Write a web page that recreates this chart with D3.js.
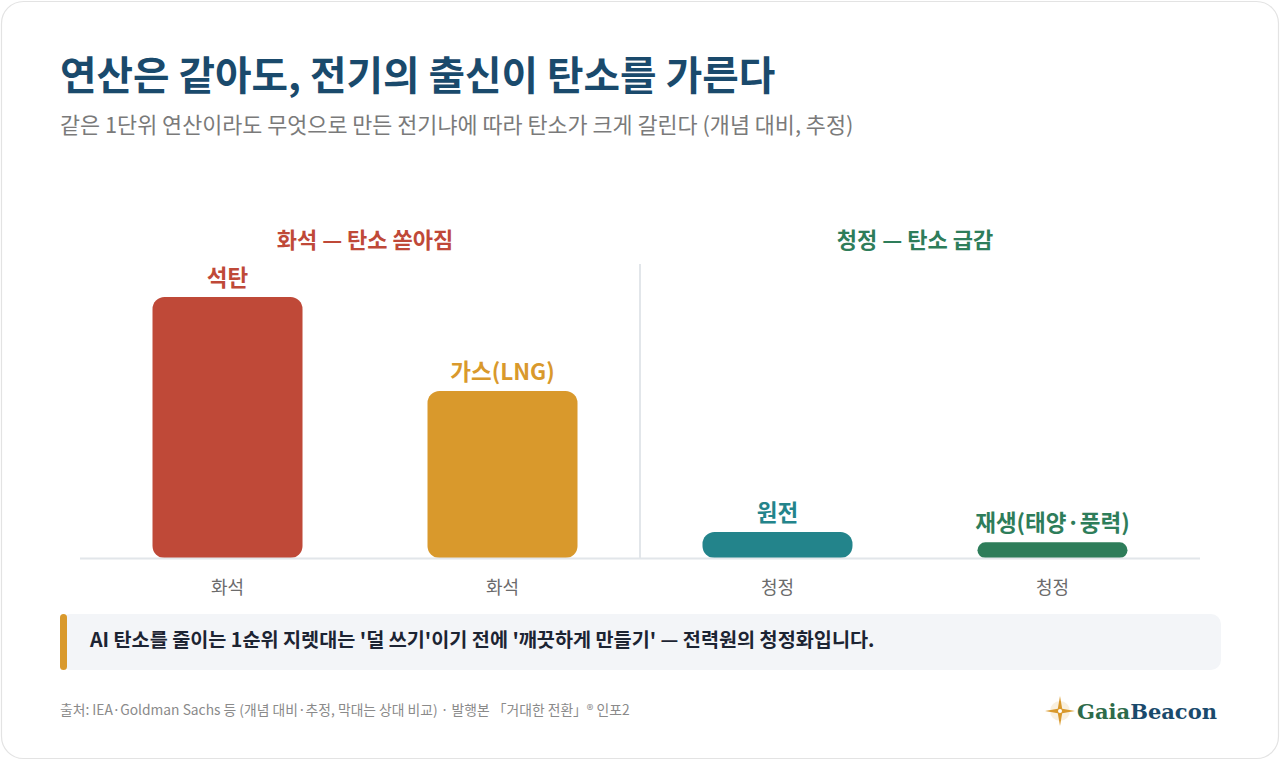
<!DOCTYPE html>
<html><head><meta charset="utf-8">
<script src="https://cdn.jsdelivr.net/npm/d3@7"></script>
<style>
html,body{margin:0;padding:0;background:#fff;}
svg{display:block;font-family:"Noto Sans CJK KR","Noto Sans",sans-serif;}
</style></head>
<body>
<svg id="chart" width="1280" height="760"></svg>
<script>
const categories = ["석탄", "가스(LNG)", "원전", "재생(태양·풍력)"];
const groups = ["화석", "화석", "청정", "청정"];
const values = [100, 64, 10, 6];
const barColors = ["#bf4938", "#d9992c", "#23848b", "#2e7d5a"];
const groupTitles = ["화석 — 탄소 쏟아짐", "청정 — 탄소 급감"];
const groupTitleColors = ["#bf4938", "#2e7d5a"];

const svg = d3.select("#chart");

// card
svg.append("rect").attr("x", 1.5).attr("y", 1.5).attr("width", 1277).attr("height", 757)
  .attr("rx", 22).attr("fill", "#fff").attr("stroke", "#e3e3e3").attr("stroke-width", 1.2);

svg.append("text").attr("x", 60).attr("y", 90).attr("font-size", 39.7).attr("font-weight", 700)
  .attr("fill", "#1a4a6c").text("연산은 같아도, 전기의 출신이 탄소를 가른다");
svg.append("text").attr("x", 60).attr("y", 133).attr("font-size", 21.8).attr("fill", "#7a7a7a")
  .text("같은 1단위 연산이라도 무엇으로 만든 전기냐에 따라 탄소가 크게 갈린다 (개념 대비, 추정)");

const x = d3.scaleBand().domain(d3.range(categories.length)).range([90, 1190])
  .paddingInner(0.4545).paddingOuter(0.2273);
const y = d3.scaleLinear().domain([0, 100]).range([558, 297]);

// divider
const midX = (x(1) + x.bandwidth() / 2 + x(2) + x.bandwidth() / 2) / 2;
svg.append("line").attr("x1", midX).attr("x2", midX).attr("y1", 264).attr("y2", y(0))
  .attr("stroke", "#e2e6ea").attr("stroke-width", 2);

// group titles
groupTitles.forEach((t, i) => {
  const cx = (x(i * 2) + x(i * 2 + 1) + x.bandwidth()) / 2;
  svg.append("text").attr("x", cx).attr("y", 248).attr("text-anchor", "middle")
    .attr("font-size", 22).attr("font-weight", 700).attr("fill", groupTitleColors[i]).text(t);
});

// bars
const idx = d3.range(categories.length);
svg.selectAll("rect.bar").data(idx).join("rect").attr("class", "bar")
  .attr("x", i => x(i)).attr("width", x.bandwidth())
  .attr("y", i => y(values[i])).attr("height", i => y(0) - y(values[i]))
  .attr("rx", i => Math.min(12, (y(0) - y(values[i])) / 2))
  .attr("fill", i => barColors[i]);

// baseline
svg.append("line").attr("x1", 80).attr("x2", 1200).attr("y1", y(0) + 0.5).attr("y2", y(0) + 0.5)
  .attr("stroke", "#e2e6ea").attr("stroke-width", 2);

// value labels
svg.selectAll("text.lab").data(idx).join("text").attr("class", "lab")
  .attr("x", i => x(i) + x.bandwidth() / 2).attr("y", i => y(values[i]) - 11)
  .attr("text-anchor", "middle").attr("font-size", 22.5).attr("font-weight", 700)
  .attr("fill", i => barColors[i]).text(i => categories[i]);

// axis labels
svg.selectAll("text.grp").data(idx).join("text").attr("class", "grp")
  .attr("x", i => x(i) + x.bandwidth() / 2).attr("y", 594)
  .attr("text-anchor", "middle").attr("font-size", 18).attr("fill", "#6b6b6b")
  .text(i => groups[i]);

// callout
svg.append("rect").attr("x", 60).attr("y", 614).attr("width", 1161).attr("height", 56)
  .attr("rx", 10).attr("fill", "#f3f5f8");
svg.append("rect").attr("x", 60).attr("y", 614).attr("width", 7).attr("height", 56)
  .attr("rx", 3.5).attr("fill", "#d9992c");
svg.append("text").attr("x", 90).attr("y", 647).attr("font-size", 19.65).attr("font-weight", 700)
  .attr("fill", "#1c2433")
  .text("AI 탄소를 줄이는 1순위 지렛대는 '덜 쓰기'이기 전에 '깨끗하게 만들기' — 전력원의 청정화입니다.");

// footer
svg.append("text").attr("x", 60).attr("y", 715).attr("font-size", 13.8).attr("fill", "#8a8a8a")
  .text("출처: IEA·Goldman Sachs 등 (개념 대비·추정, 막대는 상대 비교) · 발행본 「거대한 전환」® 인포2");

// logo
const lg = svg.append("g").attr("transform", "translate(1060,711)");
lg.append("circle").attr("r", 10).attr("fill", "#f6ead2").attr("opacity", 0.7);
lg.append("path").attr("d", "M0,-15 L2.2,-2.2 L15,0 L2.2,2.2 L0,15 L-2.2,2.2 L-15,0 L-2.2,-2.2 Z")
  .attr("fill", "#d9992c");
lg.append("circle").attr("r", 2).attr("fill", "#fff");
const lt = svg.append("text").attr("x", 1077).attr("y", 719).attr("font-size", 21).attr("font-weight", 700)
  .attr("font-family", "'DejaVu Serif','Liberation Serif',serif");
lt.append("tspan").attr("fill", "#2e6b4a").text("Gaia");
lt.append("tspan").attr("fill", "#1a4a6c").text("Beacon");
</script>
</body></html>
